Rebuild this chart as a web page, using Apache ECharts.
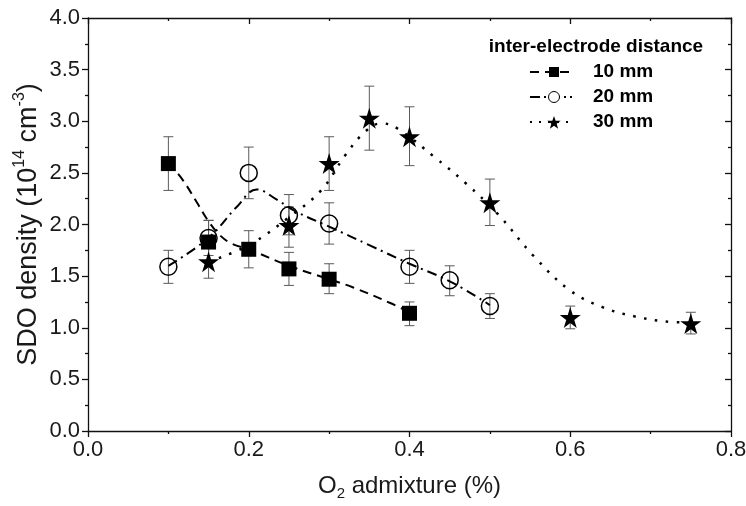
<!DOCTYPE html>
<html>
<head>
<meta charset="utf-8">
<script src="https://cdn.jsdelivr.net/npm/echarts@6/dist/echarts.min.js"></script>
<style>html,body{margin:0;padding:0;background:#fff}#c{width:746px;height:506px}</style>
</head>
<body>
<div id="c"></div>
<script>
// ---- data ----
const xTicks = [0.0, 0.2, 0.4, 0.6, 0.8];
const yTicks = [0.0, 0.5, 1.0, 1.5, 2.0, 2.5, 3.0, 3.5, 4.0];

const x10 = [0.10, 0.15, 0.20, 0.25, 0.30, 0.40];
const y10 = [2.59, 1.83, 1.76, 1.57, 1.47, 1.14];
const lo10 = [2.33, 1.65, 1.58, 1.41, 1.33, 1.02];
const hi10 = [2.85, 2.04, 1.94, 1.73, 1.62, 1.25];

const x20 = [0.10, 0.15, 0.20, 0.25, 0.30, 0.40, 0.45, 0.50];
const y20 = [1.59, 1.87, 2.50, 2.09, 2.01, 1.59, 1.46, 1.21];
const lo20 = [1.43, 1.70, 2.25, 1.90, 1.81, 1.43, 1.31, 1.09];
const hi20 = [1.75, 2.04, 2.75, 2.29, 2.21, 1.75, 1.60, 1.33];

const x30 = [0.15, 0.25, 0.30, 0.35, 0.40, 0.50, 0.60, 0.75];
const y30 = [1.64, 1.99, 2.59, 3.03, 2.85, 2.21, 1.10, 1.04];
const lo30 = [1.48, 1.78, 2.33, 2.72, 2.57, 1.99, 0.99, 0.94];
const hi30 = [1.80, 2.17, 2.85, 3.34, 3.14, 2.44, 1.21, 1.15];

// guide curves
const c10x = [0.10, 0.118, 0.135, 0.15, 0.165, 0.18, 0.20, 0.25, 0.30, 0.33, 0.376, 0.40];
const c10y = [2.60, 2.43, 2.22, 2.03, 1.89, 1.81, 1.76, 1.60, 1.47, 1.39, 1.24, 1.15];
const c20x = [0.10, 0.15, 0.185, 0.21, 0.235, 0.26, 0.30, 0.35, 0.40, 0.45, 0.50];
const c20y = [1.60, 1.87, 2.17, 2.34, 2.24, 2.12, 1.98, 1.80, 1.62, 1.45, 1.22];
const c30x = [0.15, 0.20, 0.25, 0.29, 0.32, 0.345, 0.365, 0.385, 0.43, 0.47, 0.51, 0.555, 0.60, 0.64, 0.68, 0.72, 0.75];
const c30y = [1.64, 1.80, 2.07, 2.33, 2.67, 2.90, 2.98, 2.93, 2.66, 2.40, 2.10, 1.69, 1.36, 1.20, 1.11, 1.06, 1.05];

const seriesNames = ['10 mm', '20 mm', '30 mm'];
const legendTitle = 'inter-electrode distance';

// ---- build ----
const zip = (a, b) => a.map((v, i) => [v, b[i]]);
const zip3 = (a, b, c) => a.map((v, i) => [v, b[i], c[i]]);
const STAR = 'path://M50,0 L61.2,34.5 L97.6,34.5 L68.2,55.9 L79.4,90.5 L50,69.1 L20.6,90.5 L31.8,55.9 L2.4,34.5 L38.8,34.5 Z';
const FONT = 'Liberation Sans, Arial, sans-serif';
const TXT = '#1a1a1a';

function errRender(params, api) {
  const x = api.value(0), lo = api.value(1), hi = api.value(2);
  const a = api.coord([x, lo]), b = api.coord([x, hi]);
  const w = 5;
  const st = { stroke: '#5a5a5a', lineWidth: 1 };
  return {
    type: 'group',
    children: [
      { type: 'line', shape: { x1: a[0], y1: a[1], x2: b[0], y2: b[1] }, style: st },
      { type: 'line', shape: { x1: a[0] - w, y1: a[1], x2: a[0] + w, y2: a[1] }, style: st },
      { type: 'line', shape: { x1: b[0] - w, y1: b[1], x2: b[0] + w, y2: b[1] }, style: st }
    ]
  };
}

const tickStyle = { color: '#111', width: 1.3 };
const axisCommon = {
  type: 'value',
  splitLine: { show: false },
  axisLine: { show: true, onZero: false, lineStyle: { color: '#111', width: 1.3 } },
};

const option = {
  animation: false,
  backgroundColor: '#fff',
  grid: { left: 88, right: 15, top: 18, bottom: 75, outerBoundsMode: 'none', containLabel: false },
  xAxis: [
    Object.assign({}, axisCommon, {
      min: 0, max: 0.8, interval: 0.2, position: 'bottom',
      axisTick: { show: true, inside: false, length: 6, lineStyle: tickStyle },
      minorTick: { show: true, splitNumber: 2, length: 3, lineStyle: tickStyle },
      axisLabel: { fontSize: 22, fontFamily: FONT, color: TXT, margin: 8, formatter: v => v.toFixed(1) },
      name: '{n|O}{sub|2}{n| admixture (%)}',
      nameLocation: 'middle', nameGap: 40,
      nameTextStyle: {
        fontFamily: FONT, color: TXT,
        rich: {
          n: { fontSize: 24, fontFamily: FONT, color: TXT, lineHeight: 30 },
          sub: { fontSize: 15, fontFamily: FONT, color: TXT, verticalAlign: 'bottom', lineHeight: 30 }
        }
      }
    }),
    Object.assign({}, axisCommon, {
      min: 0, max: 0.8, interval: 0.2, position: 'top',
      axisTick: { show: true, inside: true, length: 6, lineStyle: tickStyle },
      minorTick: { show: true, splitNumber: 2, length: 3, lineStyle: tickStyle },
      axisLabel: { show: false }
    })
  ],
  yAxis: [
    Object.assign({}, axisCommon, {
      min: 0, max: 4, interval: 0.5, position: 'left',
      axisTick: { show: true, inside: false, length: 6, lineStyle: tickStyle },
      minorTick: { show: true, splitNumber: 2, length: 3, lineStyle: tickStyle },
      axisLabel: { fontSize: 22, fontFamily: FONT, color: TXT, margin: 8, formatter: v => v.toFixed(1) },
      name: '{n|SDO density (10}{sup|14}{n| cm}{sup|-3}{n|)}',
      nameLocation: 'middle', nameGap: 42, nameRotate: 90, nameMoveOverlap: false,
      nameTextStyle: {
        fontFamily: FONT, color: TXT,
        rich: {
          n: { fontSize: 27, fontFamily: FONT, color: TXT, lineHeight: 34 },
          sup: { fontSize: 16, fontFamily: FONT, color: TXT, verticalAlign: 'top', lineHeight: 34 }
        }
      }
    }),
    Object.assign({}, axisCommon, {
      min: 0, max: 4, interval: 0.5, position: 'right',
      axisTick: { show: true, inside: true, length: 6, lineStyle: tickStyle },
      minorTick: { show: true, splitNumber: 2, length: 3, lineStyle: tickStyle },
      axisLabel: { show: false }
    })
  ],
  series: [
    { type: 'custom', renderItem: errRender, data: zip3(x10, lo10, hi10), z: 1, silent: true },
    { type: 'custom', renderItem: errRender, data: zip3(x20, lo20, hi20), z: 1, silent: true },
    { type: 'custom', renderItem: errRender, data: zip3(x30, lo30, hi30), z: 1, silent: true },
    { type: 'line', name: seriesNames[0], data: zip(c10x, c10y), smooth: 0.4, showSymbol: false, z: 2,
      lineStyle: { color: '#000', width: 2, type: [9, 6] } },
    { type: 'line', name: seriesNames[1], data: zip(c20x, c20y), smooth: 0.4, showSymbol: false, z: 2,
      lineStyle: { color: '#000', width: 2, type: [10, 5, 2, 5] } },
    { type: 'line', name: seriesNames[2], data: zip(c30x, c30y), smooth: 0.4, showSymbol: false, z: 2,
      lineStyle: { color: '#000', width: 2.5, type: [2.5, 8.5] } },
    { type: 'scatter', data: zip(x10, y10), symbol: 'rect', symbolSize: 15, z: 3,
      itemStyle: { color: '#000', opacity: 1 } },
    { type: 'scatter', data: zip(x20, y20), symbol: 'circle', symbolSize: 17, z: 3,
      itemStyle: { color: 'rgba(255,255,255,0)', borderColor: '#000', borderWidth: 1.5, opacity: 1 } },
    { type: 'scatter', data: zip(x30, y30), symbol: STAR, symbolSize: 21, z: 3,
      itemStyle: { color: '#000', opacity: 1 } }
  ],
  graphic: []
};

// legend (drawn as graphic, emulating the original figure legend)
function starPoints(cx, cy, R, r) {
  const pts = [];
  for (let i = 0; i < 10; i++) {
    const ang = -Math.PI / 2 + i * Math.PI / 5;
    const rad = i % 2 === 0 ? R : r;
    pts.push([cx + rad * Math.cos(ang), cy + rad * Math.sin(ang)]);
  }
  return pts;
}
const lgX0 = 530, lgX1 = 572, lgSym = 554, lgText = 593;
const lgY = [72, 97, 122];
const lgDash = [[9, 6], [10, 4, 2, 4], [2, 7]];
option.graphic = [
  { type: 'text', x: 596, y: 47, style: { text: legendTitle, font: 'bold 19px ' + FONT, fill: '#000', align: 'center', verticalAlign: 'middle' } }
];
seriesNames.forEach((nm, i) => {
  option.graphic.push({ type: 'line', shape: { x1: lgX0, y1: lgY[i], x2: lgX1, y2: lgY[i] },
    style: { stroke: '#000', lineWidth: 2, lineDash: lgDash[i] } });
  if (i === 0) option.graphic.push({ type: 'rect', shape: { x: lgSym - 5, y: lgY[i] - 5, width: 10, height: 10 }, style: { fill: '#000' } });
  if (i === 1) option.graphic.push({ type: 'circle', shape: { cx: lgSym, cy: lgY[i], r: 5.5 }, style: { fill: '#fff', stroke: '#000', lineWidth: 1 } });
  if (i === 2) option.graphic.push({ type: 'polygon', shape: { points: starPoints(lgSym, lgY[i] + 1, 7, 2.8) }, style: { fill: '#000' } });
  option.graphic.push({ type: 'text', x: lgText, y: lgY[i], style: { text: nm, font: 'bold 19px ' + FONT, fill: '#000', verticalAlign: 'middle' } });
});

const chart = echarts.init(document.getElementById('c'), null, { renderer: 'canvas' });
chart.setOption(option);
</script>
</body>
</html>
